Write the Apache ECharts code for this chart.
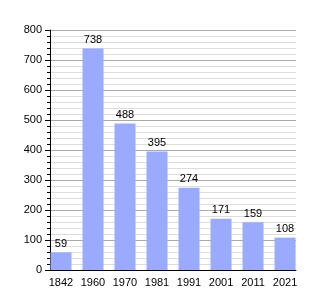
<!DOCTYPE html>
<html><head><meta charset="utf-8">
<script src="https://cdn.jsdelivr.net/npm/echarts@6/dist/echarts.min.js"></script>
<style>html,body{margin:0;padding:0;background:#fff}#c{width:325px;height:300px}</style>
</head><body><div id="c"></div>
<script>
const years = ['1842','1960','1970','1981','1991','2001','2011','2021'];
const population = [59, 738, 488, 395, 274, 171, 159, 108];
const yTicks = [0,100,200,300,400,500,600,700,800];

const chart = echarts.init(document.getElementById('c'), null, {renderer:'canvas'});
const font = 'Liberation Sans, Arial, sans-serif';
chart.setOption({
  animation:false,
  grid:{left:50, right:29, top:30, bottom:30, containLabel:false},
  xAxis:{
    type:'value', min:-0.343, max:7.343,
    axisLine:{show:true, onZero:false, lineStyle:{color:'#000', width:1}},
    axisTick:{show:false},
    splitLine:{show:false},
    axisLabel:{customValues:years.map((y,i)=>i), formatter:v=>years[Math.round(v)], color:'#000', fontSize:11, fontFamily:font, margin:7}
  },
  yAxis:{
    type:'value', min:0, max:800, interval:100,
    axisLine:{show:true, onZero:false, lineStyle:{color:'#000', width:1}},
    axisTick:{show:true, inside:false, length:5, lineStyle:{color:'#000'}},
    minorTick:{show:true, splitNumber:5, length:3, lineStyle:{color:'#000'}},
    splitLine:{show:true, lineStyle:{color:'#aaa', width:1}},
    minorSplitLine:{show:true, lineStyle:{color:'#ddd', width:1}},
    axisLabel:{color:'#000', fontSize:11, fontFamily:font, margin:8}
  },
  series:[{
    type:'bar',
    data:population.map((v,i)=>[i,v]),
    barWidth:21,
    itemStyle:{color:'#9aabff'},
    label:{show:true, position:'top', distance:3, color:'#000', fontSize:11, fontFamily:font}
  }]
});
</script></body></html>
